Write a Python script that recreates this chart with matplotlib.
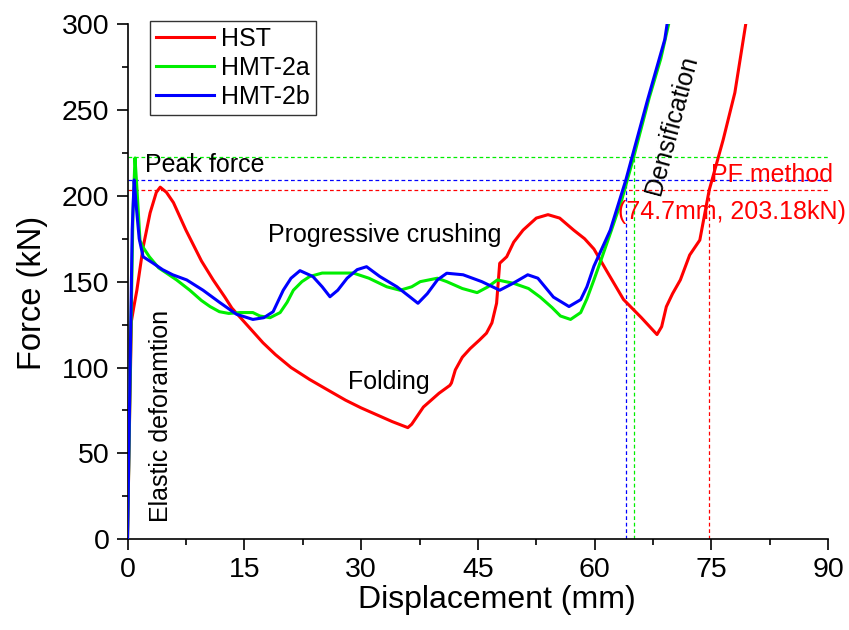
import matplotlib
matplotlib.use("Agg")
import matplotlib.pyplot as plt
from matplotlib.ticker import MultipleLocator

plt.rcParams['font.family'] = ['Liberation Sans', 'DejaVu Sans']

# ---- data ----
hst_x = [0, 0.3, 0.5, 0.8, 1.2, 2.0, 2.9, 3.7, 4.2, 5.0, 5.9, 7.5, 9.5, 11.0, 12.5,
         13.4, 15.5, 17.4, 19.0, 21.0, 23.4, 25.5, 28.0, 30.0, 32.0, 34.0, 36.0,
         36.5, 38, 40, 41.4, 41.6, 42.1, 43.0, 44, 45.2, 46.1, 46.8,
         47.4, 47.8, 48.7, 49.6, 50.8, 52.5, 54, 55.5, 57.3, 58.7, 59.9, 61.7, 63.7,
         66, 68.0, 68.6, 69.2, 70.0, 71.0, 72.2, 73.5, 74.7, 76.5, 78, 79.4]
hst_y = [0, 80, 127, 135, 145, 170, 190, 202, 205, 202, 196, 180, 162, 151, 141,
         134.6, 124, 114.4, 107.5, 100, 93, 87.5, 81, 76.5, 72.5, 68.5, 65,
         67, 77, 85, 89.6, 91, 98.6, 106, 111, 116, 120, 126,
         137.4, 160.7, 164.5, 173, 180, 187, 189, 187, 180, 175, 169, 155, 139.6,
         129, 119.2, 123.8, 135.4, 143, 151, 165.5, 174.2, 203.18, 232.6, 260, 300]

hmt2a_x = [0, 0.4, 0.7, 0.96, 1.2, 1.6, 2.0, 2.8, 4.0, 5.0, 6.3, 8.0, 9.5, 10.6,
           11.8, 13, 14.5, 16.1, 17, 18.3, 19.6, 20.5, 21.3, 22.4, 23.4, 25, 26.4,
           29, 31, 33.3, 35, 36.5, 37.6, 39.8, 41, 43, 44.9, 46.3, 47.5, 49.6, 51.5,
           53, 54.5, 55.6, 56.9, 58.2, 59, 59.9, 61, 62, 63.5, 65.0, 67, 68.5, 69.5]
hmt2a_y = [0, 110, 190, 222, 205, 174, 170, 164.5, 158, 155, 151, 145, 139, 135.5,
           132.5, 131.5, 132, 132, 130, 129, 132, 138, 145, 150, 153, 155, 155,
           155, 152, 147, 145, 147, 150, 152, 150, 146, 143.6, 147, 151, 149, 146,
           141, 135, 130, 128, 132, 140, 151, 165, 178, 198, 222.4, 257, 280, 300]

hmt2b_x = [0, 0.3, 0.6, 0.85, 1.1, 1.5, 2.0, 3.2, 4.5, 5.8, 7.6, 9.7, 11.8, 14,
           16.1, 17.5, 18.7, 20, 21, 22.15, 23.8, 25, 26, 27, 28.2, 29.5, 30.7,
           32.4, 34.6, 36.3, 37.3, 38.5, 39.8, 41, 43.1, 45.5, 47.8, 49.5, 51.4,
           52.7, 54.7, 56.7, 58.2, 59.0, 59.9, 62, 64.0, 66.8, 69, 69.3]
hmt2b_y = [0, 90, 180, 209.2, 195, 175, 164.5, 161, 157, 154, 151, 145, 138, 131,
           128, 129, 132.5, 145, 152, 156.4, 153, 147, 141.2, 145, 152, 157, 158.7,
           153, 147, 141, 137.4, 143, 151, 154.9, 154, 150, 145, 149, 154,
           152, 141, 135.5, 139.5, 147, 159, 180, 209.2, 256, 291, 300]

series_labels = ['HST', 'HMT-2a', 'HMT-2b']
series_colors = ['#ff0000', '#00ee00', '#0000ff']
peak_force = [203.18, 222.4, 209.2]      # kN
pf_disp = [74.7, 65.0, 64.0]             # mm

fig = plt.figure(figsize=(8.49, 6.30), dpi=100)
ax = fig.add_axes([0.1502, 0.1440, 0.8254, 0.8179])

# dashed reference lines
for pf, d, c in zip(peak_force, pf_disp, series_colors):
    ax.plot([0, 90], [pf, pf], color=c, lw=0.9, dashes=(3, 2.2), zorder=1)
    ax.plot([d, d], [0, pf], color=c, lw=0.9, dashes=(3, 2.2), zorder=1)

xs = [hst_x, hmt2a_x, hmt2b_x]
ys = [hst_y, hmt2a_y, hmt2b_y]
for x, y, lab, c in zip(xs, ys, series_labels, series_colors):
    ax.plot(x, y, color=c, lw=2.2, label=lab, solid_joinstyle='round', zorder=3)

ax.set_xlim(0, 90)
ax.set_ylim(0, 300)
ax.xaxis.set_major_locator(MultipleLocator(15))
ax.xaxis.set_minor_locator(MultipleLocator(7.5))
ax.yaxis.set_major_locator(MultipleLocator(50))
ax.yaxis.set_minor_locator(MultipleLocator(25))
ax.tick_params(which='major', length=8, width=1.2, labelsize=20.5, pad=5, direction='out')
ax.tick_params(which='minor', length=4, width=1.2, direction='out')
for s in ['top', 'right']:
    ax.spines[s].set_visible(False)
for s in ['left', 'bottom']:
    ax.spines[s].set_linewidth(1.2)

ax.set_xlabel('Displacement (mm)', fontsize=23)
ax.set_ylabel('Force (kN)', fontsize=23.5)
ax.xaxis.set_label_coords(0.527, -0.088)
ax.yaxis.set_label_coords(-0.113, 0.478)

leg = ax.legend(loc='upper left', bbox_to_anchor=(0.032, 1.006), fontsize=18,
                frameon=True, fancybox=False, edgecolor='black', handlelength=2.3,
                handletextpad=0.3, labelspacing=0.2, borderpad=0.25,
                borderaxespad=0)
leg.get_frame().set_linewidth(1.0)

# annotations
ax.text(2.25, 218, 'Peak force', fontsize=18, va='center', ha='left')
ax.text(18.0, 177, 'Progressive crushing', fontsize=18, va='center', ha='left')
ax.text(28.3, 91.6, 'Folding', fontsize=18, va='center', ha='left')
ax.text(4.3, 71.7, 'Elastic deforamtion', fontsize=18, va='center', ha='center',
        rotation=90)
ax.text(69.9, 241, 'Densification', fontsize=18, va='center', ha='center',
        rotation=75)
ax.text(75.0, 212, 'PF method', fontsize=18, va='center', ha='left', color='#ff0000')
ax.text(63.0, 190.7, '(74.7mm, 203.18kN)', fontsize=18, va='center', ha='left',
        color='#ff0000')

fig.savefig('out.png', dpi=100)
